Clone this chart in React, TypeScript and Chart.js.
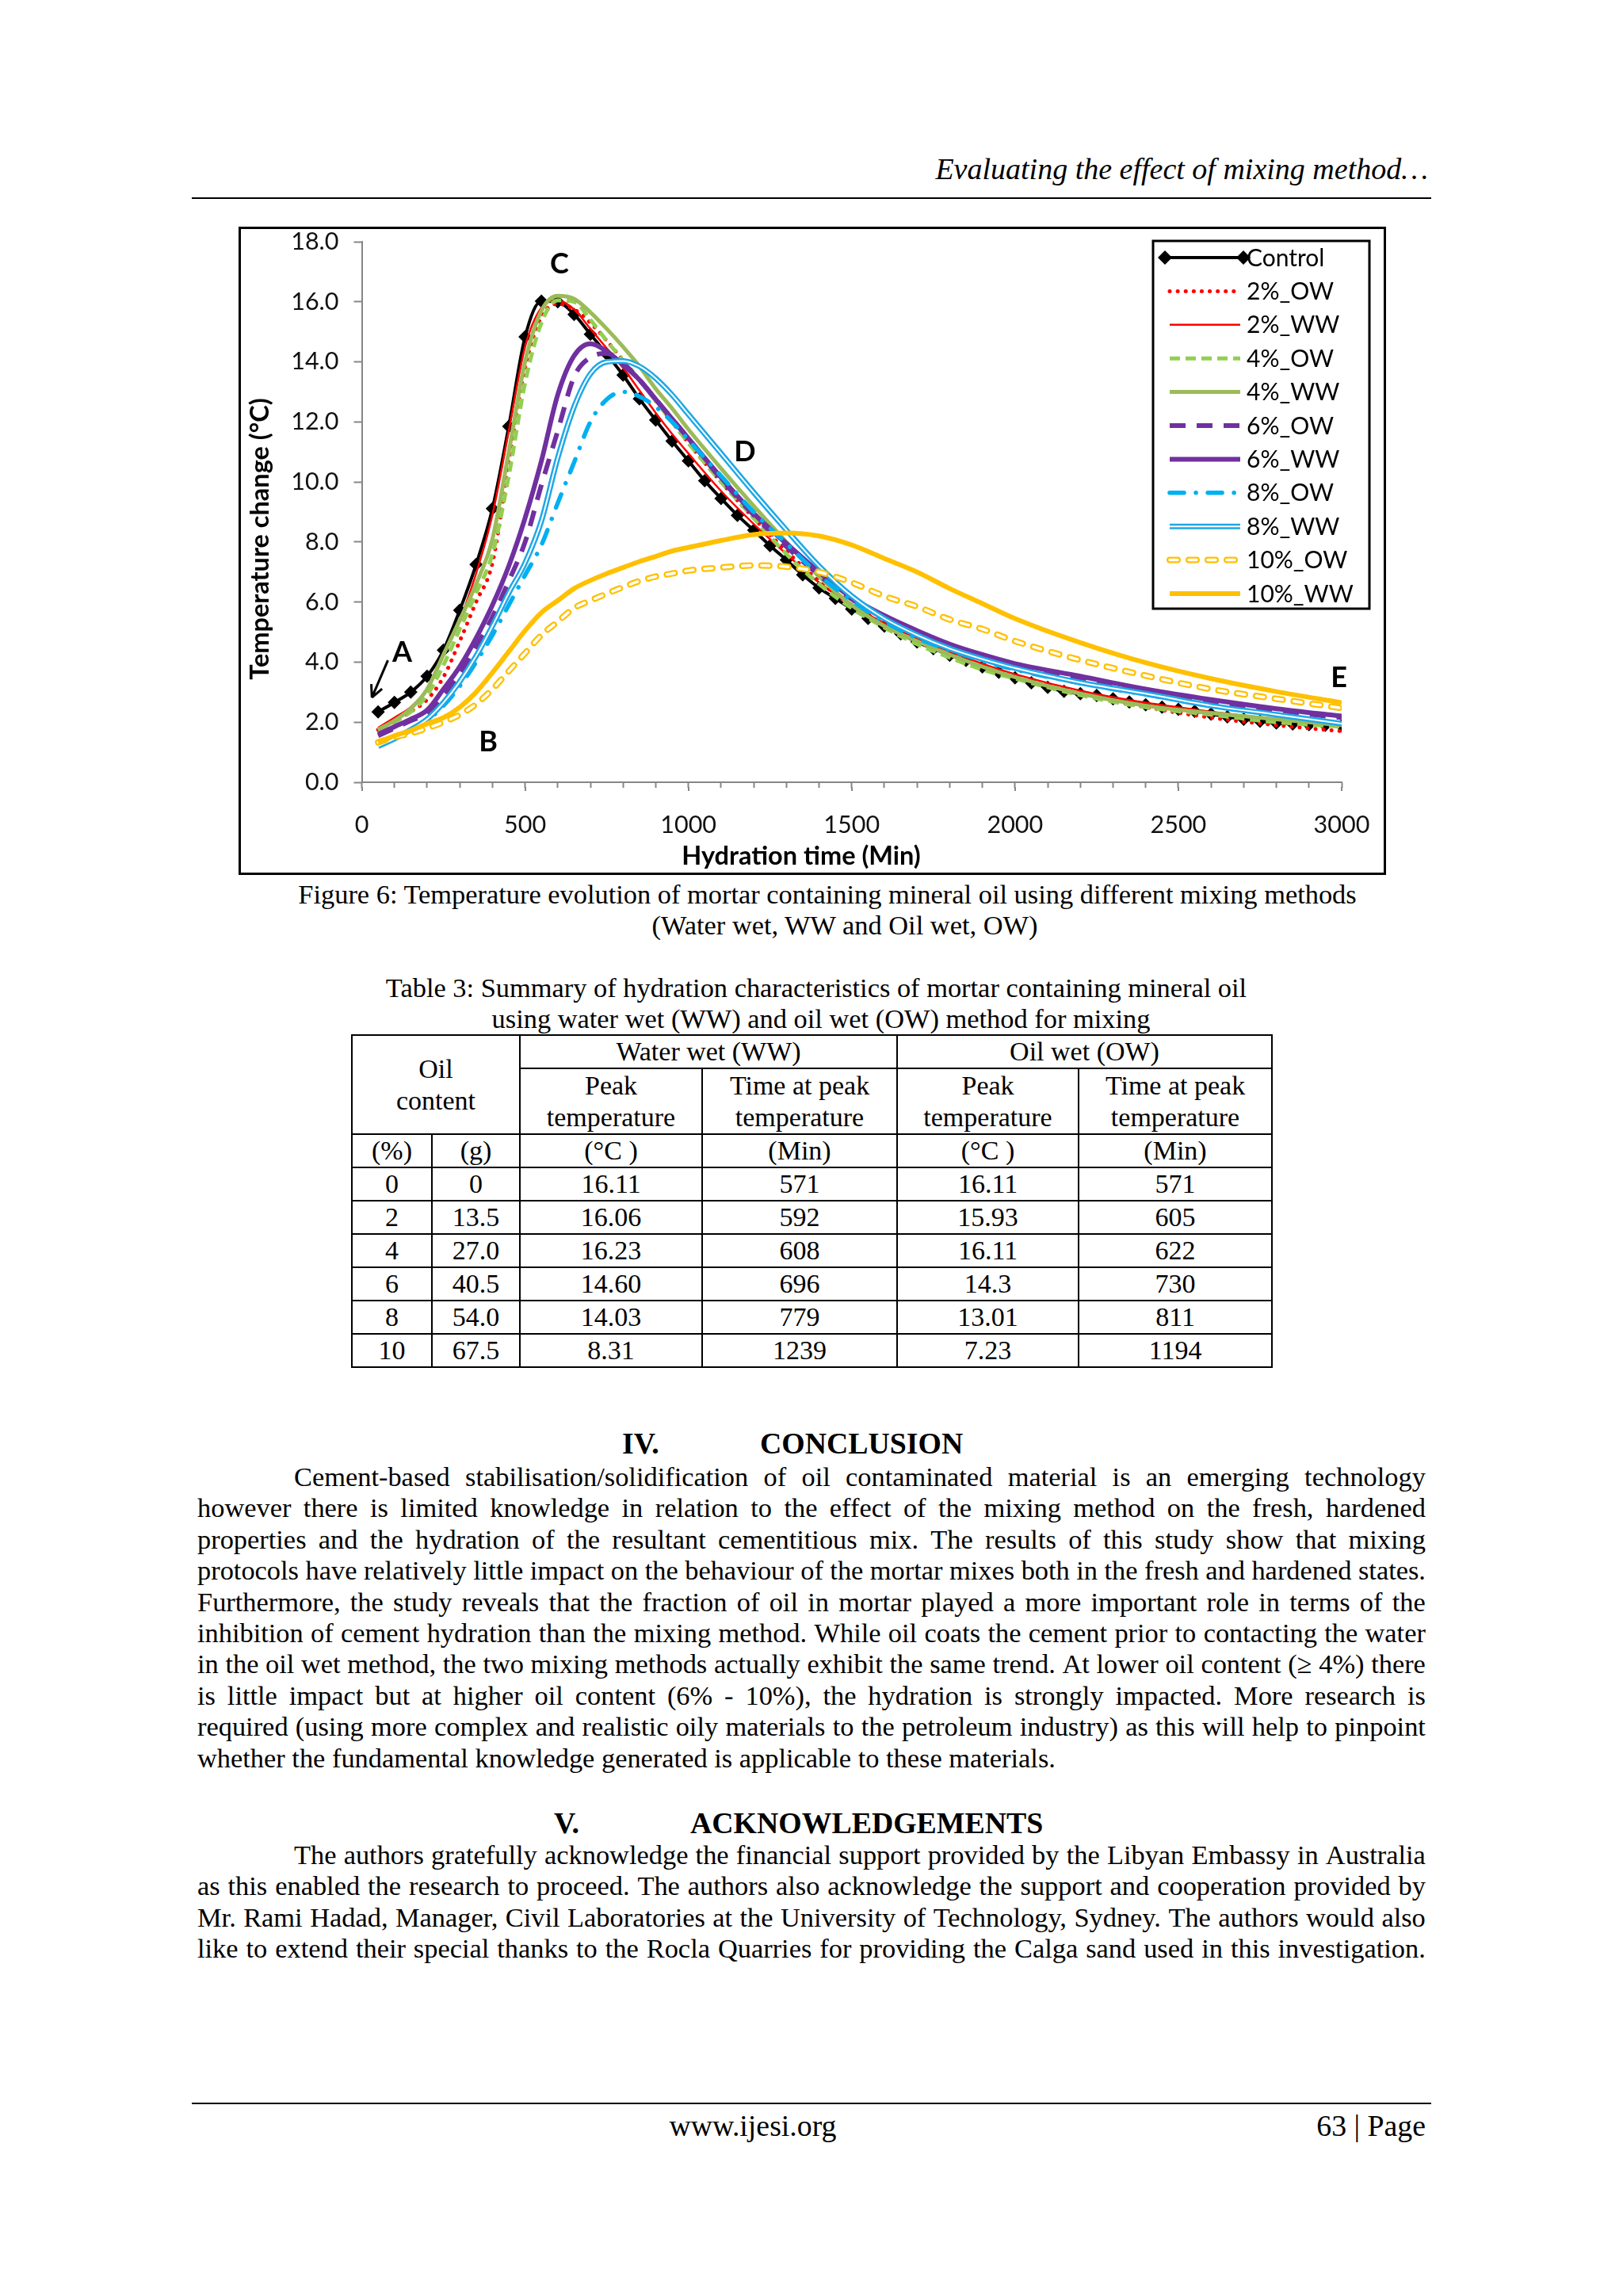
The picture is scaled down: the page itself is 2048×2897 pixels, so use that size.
import React, { useEffect, useRef } from 'react';
import { Chart, registerables } from 'chart.js';

Chart.register(...registerables);

// ---------------- DATA ----------------
const controlTime = [
  50, 100, 150, 200, 250, 300, 350, 400, 450, 500,
  550, 600, 650, 700, 750, 800, 850, 900, 950, 1000,
  1050, 1100, 1150, 1200, 1250, 1300, 1350, 1400, 1450, 1500,
  1550, 1600, 1650, 1700, 1750, 1800, 1850, 1900, 1950, 2000,
  2050, 2100, 2150, 2200, 2250, 2300, 2350, 2400, 2450, 2500,
  2550, 2600, 2650, 2700, 2750, 2800, 2850, 2900, 2950, 3000,
];
const control = [
  2.34, 2.66, 3.0, 3.53, 4.4, 5.73, 7.25, 9.11, 11.85, 14.83,
  16.02, 16.0, 15.58, 14.92, 14.26, 13.56, 12.77, 12.06, 11.36, 10.7,
  10.04, 9.45, 8.89, 8.39, 7.88, 7.4, 6.91, 6.47, 6.12, 5.77,
  5.46, 5.2, 4.94, 4.67, 4.45, 4.23, 4.06, 3.84, 3.66, 3.48,
  3.31, 3.16, 3.03, 2.95, 2.89, 2.78, 2.67, 2.58, 2.5, 2.43,
  2.36, 2.27, 2.18, 2.1, 2.03, 1.97, 1.94, 1.92, 1.9, 1.88,
];

const seriesTime = [
  50, 100, 150, 200, 250, 300, 350, 400, 450, 500,
  550, 600, 650, 700, 750, 800, 850, 900, 950, 1000,
  1100, 1200, 1300, 1400, 1500, 1600, 1700, 1800, 1900, 2000,
  2200, 2400, 2600, 2800, 3000,
];
const ow2 = [
  1.75, 2.05, 2.35, 2.75, 3.5, 4.7, 6.0, 7.3, 10.6, 13.8,
  15.5, 15.93, 15.75, 15.3, 14.7, 14.05, 13.4, 12.7, 12.0, 11.3,
  10.0, 8.8, 7.7, 6.7, 5.9, 5.25, 4.7, 4.25, 3.85, 3.5,
  2.95, 2.5, 2.15, 1.9, 1.7,
];
const ww2 = [
  1.81, 2.15, 2.5, 3.1, 4.2, 5.4, 6.95, 8.9, 11.7, 14.5,
  15.8, 16.05, 15.75, 15.1, 14.45, 13.8, 13.05, 12.3, 11.6, 10.95,
  9.7, 8.6, 7.6, 6.65, 5.9, 5.3, 4.8, 4.35, 3.95, 3.6,
  3.05, 2.65, 2.35, 2.1, 1.9,
];
const ow4 = [
  1.72, 2.0, 2.35, 2.9, 3.9, 5.1, 6.3, 7.6, 10.2, 13.3,
  15.3, 16.05, 16.0, 15.4, 14.7, 14.05, 13.4, 12.7, 12.0, 11.3,
  10.0, 8.8, 7.6, 6.6, 5.8, 5.15, 4.6, 4.15, 3.75, 3.45,
  2.9, 2.5, 2.25, 2.0, 1.85,
];
const ww4 = [
  1.75, 2.05, 2.45, 3.1, 4.25, 5.4, 6.6, 8.1, 11.0, 14.0,
  15.7, 16.2, 16.1, 15.65, 15.1, 14.5, 13.85, 13.1, 12.45, 11.75,
  10.45, 9.2, 8.0, 6.85, 5.9, 5.2, 4.7, 4.25, 3.85, 3.5,
  2.95, 2.55, 2.3, 2.1, 1.9,
];
const ow6 = [
  1.55, 1.8, 2.05, 2.3, 2.9, 3.6, 4.5, 5.5, 6.7, 8.0,
  9.9, 11.7, 13.5, 14.15, 14.28, 13.95, 13.4, 12.75, 12.1, 11.45,
  10.1, 8.9, 7.85, 6.9, 6.1, 5.45, 4.95, 4.5, 4.15, 3.85,
  3.4, 3.0, 2.65, 2.38, 2.15,
];
const ww6 = [
  1.6, 1.85, 2.1, 2.4, 3.1, 3.85, 4.8, 5.9, 7.2, 8.8,
  10.7, 12.9, 14.2, 14.6, 14.35, 13.9, 13.4, 12.75, 12.1, 11.45,
  10.15, 8.95, 7.95, 7.0, 6.15, 5.55, 5.05, 4.6, 4.25, 3.95,
  3.53, 3.1, 2.75, 2.45, 2.2,
];
const ow8 = [
  1.3, 1.5, 1.75, 2.05, 2.55, 3.2, 4.0, 4.9, 5.9, 6.9,
  7.9, 9.3, 10.65, 12.0, 12.75, 13.0, 12.85, 12.5, 12.0, 11.4,
  10.2, 9.0, 7.95, 6.9, 6.05, 5.35, 4.8, 4.4, 4.05, 3.75,
  3.3, 2.92, 2.55, 2.25, 1.95,
];
const ww8 = [
  1.2, 1.45, 1.75, 2.1, 2.65, 3.35, 4.2, 5.2, 6.3, 7.3,
  8.7, 10.8, 12.5, 13.6, 14.0, 14.03, 13.85, 13.45, 12.9, 12.25,
  10.95, 9.65, 8.4, 7.2, 6.2, 5.45, 4.9, 4.45, 4.1, 3.8,
  3.32, 2.95, 2.55, 2.25, 1.95,
];
const ow10 = [
  1.33, 1.5, 1.63, 1.8, 2.0, 2.25, 2.6, 3.1, 3.7, 4.3,
  4.9, 5.35, 5.8, 6.05, 6.28, 6.5, 6.7, 6.85, 6.95, 7.05,
  7.15, 7.22, 7.18, 7.0, 6.65, 6.2, 5.85, 5.42, 5.1, 4.7,
  4.07, 3.55, 3.1, 2.78, 2.47,
];
const ww10 = [
  1.33, 1.55, 1.72, 1.95, 2.15, 2.5, 3.0, 3.65, 4.35, 5.05,
  5.65, 6.05, 6.45, 6.72, 6.95, 7.15, 7.35, 7.52, 7.7, 7.82,
  8.05, 8.25, 8.3, 8.2, 7.9, 7.45, 7.0, 6.45, 5.95, 5.45,
  4.65, 3.98, 3.45, 3.02, 2.65,
];

const seriesNames = ['Control', '2%_OW', '2%_WW', '4%_OW', '4%_WW', '6%_OW', '6%_WW', '8%_OW', '8%_WW', '10%_OW', '10%_WW'];
const xMajorTicks = [0, 500, 1000, 1500, 2000, 2500, 3000];

const annotationLabels = ['A', 'B', 'C', 'D', 'E'];
const annotationTime = [124, 387, 605, 1173, 2992];
const annotationTemp = [4.32, 1.33, 17.26, 11.0, 3.48];
const arrowTime = [80, 31];
const arrowTemp = [4.06, 2.82];

// Table 3
const oilPercent = ['0', '2', '4', '6', '8', '10'];
const oilGrams = ['0', '13.5', '27.0', '40.5', '54.0', '67.5'];
const wwPeakTemp = ['16.11', '16.06', '16.23', '14.60', '14.03', '8.31'];
const wwPeakTime = ['571', '592', '608', '696', '779', '1239'];
const owPeakTemp = ['16.11', '15.93', '16.11', '14.3', '13.01', '7.23'];
const owPeakTime = ['571', '605', '622', '730', '811', '1194'];

const conclusionLines = [
  'Cement-based stabilisation/solidification of oil contaminated material is an emerging technology',
  'however there is limited knowledge in relation to the effect of the mixing method on the fresh, hardened',
  'properties and the hydration of the resultant cementitious mix. The results of this study show that mixing',
  'protocols have relatively little impact on the behaviour of the mortar mixes both in the fresh and hardened states.',
  'Furthermore, the study reveals that the fraction of oil in mortar played a more important role in terms of the',
  'inhibition of cement hydration than the mixing method. While oil coats the cement prior to contacting the water',
  'in the oil wet method, the two mixing methods actually exhibit the same trend. At lower oil content (\u2265 4%) there',
  'is little impact but at higher oil content (6% - 10%), the hydration is strongly impacted. More research is',
  'required (using more complex and realistic oily materials to the petroleum industry) as this will help to pinpoint',
  'whether the fundamental knowledge generated is applicable to these materials.',
];
const ackLines = [
  'The authors gratefully acknowledge the financial support provided by the Libyan Embassy in Australia',
  'as this enabled the research to proceed. The authors also acknowledge the support and cooperation provided by',
  'Mr. Rami Hadad, Manager, Civil Laboratories at the University of Technology, Sydney. The authors would also',
  'like to extend their special thanks to the Rocla Quarries for providing the Calga sand used in this investigation.',
];

// ---------------- STYLES ----------------
type LineStyle = {
  color: string;
  width: number;
  dash?: number[];
  cap?: CanvasLineCap;
  inner?: { color: string; width: number; dash?: number[] };
  marker?: boolean;
};
const styles: Record<string, LineStyle> = {
  'Control': { color: '#000000', width: 4, marker: true },
  '2%_OW': { color: '#FF0000', width: 5, dash: [0.1, 10], cap: 'round' },
  '2%_WW': { color: '#FF0000', width: 2.5 },
  '4%_OW': { color: '#92D050', width: 5, dash: [13, 7] },
  '4%_WW': { color: '#9BBB59', width: 5 },
  '6%_OW': { color: '#7030A0', width: 6, dash: [20, 14] },
  '6%_WW': { color: '#7030A0', width: 6 },
  '8%_OW': { color: '#00B0F0', width: 5.5, dash: [18, 15, 0.1, 15], cap: 'round' },
  '8%_WW': { color: '#1FA8E6', width: 7, inner: { color: '#FFFFFF', width: 2 } },
  '10%_OW': { color: '#FFC000', width: 8, dash: [10, 14], cap: 'round', inner: { color: '#FFFFFF', width: 3.5 } },
  '10%_WW': { color: '#FFC000', width: 6 },
};

const seriesTimes = [controlTime, seriesTime, seriesTime, seriesTime, seriesTime, seriesTime, seriesTime, seriesTime, seriesTime, seriesTime, seriesTime];
const seriesValues = [control, ow2, ww2, ow4, ww4, ow6, ww6, ow8, ww8, ow10, ww10];

const TICK_FONT = 'Lato';
const SERIF = '"Liberation Serif", "Times New Roman", serif';
const AXIS_GRAY = '#868686';

function drawDiamond(ctx: CanvasRenderingContext2D, x: number, y: number, r: number) {
  ctx.beginPath();
  ctx.moveTo(x, y - r);
  ctx.lineTo(x + r, y);
  ctx.lineTo(x, y + r);
  ctx.lineTo(x - r, y);
  ctx.closePath();
  ctx.fill();
}

function drawSample(ctx: CanvasRenderingContext2D, st: LineStyle, x1: number, x2: number, yy: number) {
  ctx.save();
  ctx.strokeStyle = st.color;
  ctx.lineWidth = st.width;
  ctx.setLineDash(st.dash || []);
  ctx.lineCap = st.cap || 'butt';
  ctx.beginPath();
  ctx.moveTo(x1, yy);
  ctx.lineTo(x2, yy);
  ctx.stroke();
  if (st.inner) {
    ctx.strokeStyle = st.inner.color;
    ctx.lineWidth = st.inner.width;
    ctx.setLineDash(st.inner.dash || st.dash || []);
    ctx.beginPath();
    ctx.moveTo(x1, yy);
    ctx.lineTo(x2, yy);
    ctx.stroke();
  }
  if (st.marker) {
    ctx.fillStyle = st.color;
    drawDiamond(ctx, x1, yy, 9);
    drawDiamond(ctx, x2, yy, 9);
  }
  ctx.restore();
}

const extrasPlugin = {
  id: 'extras',
  afterDraw(chart: any) {
    const ctx: CanvasRenderingContext2D = chart.ctx;
    const xs = chart.scales.x;
    const ys = chart.scales.y;
    ctx.save();
    // longer major ticks on the x axis
    ctx.strokeStyle = AXIS_GRAY;
    ctx.lineWidth = 2;
    ctx.beginPath();
    xMajorTicks.forEach((t) => {
      const px = Math.round(xs.getPixelForValue(t));
      ctx.moveTo(px, xs.top + 6);
      ctx.lineTo(px, xs.top + 11);
    });
    ctx.stroke();

    // annotation letters
    ctx.fillStyle = '#000';
    ctx.font = `bold 36px ${TICK_FONT}`;
    ctx.textAlign = 'center';
    ctx.textBaseline = 'middle';
    annotationLabels.forEach((l, i) => {
      ctx.fillText(l, xs.getPixelForValue(annotationTime[i]), ys.getPixelForValue(annotationTemp[i]));
    });
    // arrow
    const ax1 = xs.getPixelForValue(arrowTime[0]);
    const ay1 = ys.getPixelForValue(arrowTemp[0]);
    const ax2 = xs.getPixelForValue(arrowTime[1]);
    const ay2 = ys.getPixelForValue(arrowTemp[1]);
    ctx.strokeStyle = '#000';
    ctx.lineWidth = 3;
    ctx.beginPath();
    ctx.moveTo(ax1, ay1);
    ctx.lineTo(ax2, ay2);
    const ang = Math.atan2(ay1 - ay2, ax1 - ax2);
    const hl = 17;
    ctx.moveTo(ax2, ay2);
    ctx.lineTo(ax2 + hl * Math.cos(ang + 0.45), ay2 + hl * Math.sin(ang + 0.45));
    ctx.moveTo(ax2, ay2);
    ctx.lineTo(ax2 + hl * Math.cos(ang - 0.45), ay2 + hl * Math.sin(ang - 0.45));
    ctx.stroke();

    // axis titles
    ctx.font = `bold 32.5px ${TICK_FONT}`;
    ctx.fillStyle = '#000';
    ctx.fillText('Hydration time (Min)', 707, 792);
    ctx.save();
    ctx.translate(25, 391);
    ctx.rotate(-Math.PI / 2);
    ctx.fillText('Temperature change (\u00B0C)', 0, 0);
    ctx.restore();

    // legend
    ctx.fillStyle = '#fff';
    ctx.fillRect(1151, 15, 273, 464);
    ctx.strokeStyle = '#000';
    ctx.lineWidth = 3;
    ctx.setLineDash([]);
    ctx.strokeRect(1151, 15, 273, 464);
    ctx.font = `30px ${TICK_FONT}`;
    ctx.textAlign = 'left';
    ctx.textBaseline = 'middle';
    seriesNames.forEach((n, i) => {
      const yy = 36 + i * 42.4;
      const st = styles[n];
      if (st.marker) drawSample(ctx, st, 1166, 1265, yy);
      else drawSample(ctx, st, 1172, 1261, yy);
      ctx.fillStyle = '#000';
      ctx.fillText(n, 1269, yy + 1);
    });
    ctx.restore();
  },
};

function ChartBox() {
  const ref = useRef<HTMLCanvasElement | null>(null);
  useEffect(() => {
    if (!ref.current) return;
    const datasets: any[] = [];
    seriesNames.forEach((name, si) => {
      const st = styles[name];
      const pts = seriesTimes[si].map((t, i) => ({ x: t, y: seriesValues[si][i] }));
      datasets.push({
        label: name,
        data: pts,
        borderColor: st.color,
        backgroundColor: st.color,
        borderWidth: st.width,
        borderDash: st.dash || [],
        borderCapStyle: st.cap || 'butt',
        borderJoinStyle: 'round',
        pointRadius: st.marker ? 8.5 : 0,
        pointHoverRadius: st.marker ? 8.5 : 0,
        pointStyle: 'rectRot',
        pointBackgroundColor: st.color,
        pointBorderColor: st.color,
        pointBorderWidth: 0,
        cubicInterpolationMode: 'monotone',
        fill: false,
      });
      if (st.inner) {
        datasets.push({
          label: name + ' (inner)',
          data: pts,
          borderColor: st.inner.color,
          borderWidth: st.inner.width,
          borderDash: st.inner.dash || st.dash || [],
          borderCapStyle: st.cap || 'butt',
          borderJoinStyle: 'round',
          pointRadius: 0,
          pointHoverRadius: 0,
          cubicInterpolationMode: 'monotone',
          fill: false,
        });
      }
    });
    datasets.forEach((d, i) => { d.order = datasets.length - i; });

    const chart = new Chart(ref.current, {
      type: 'line',
      data: { datasets },
      options: {
        responsive: false,
        animation: false,
        devicePixelRatio: 1,
        layout: { padding: { left: 0, right: 53, top: 16, bottom: 0 } },
        plugins: { legend: { display: false }, tooltip: { enabled: false } },
        scales: {
          x: {
            type: 'linear',
            min: 0,
            max: 3000,
            afterFit: (s: any) => { s.height = 114; s.paddingLeft = 0; s.paddingRight = 0; },
            ticks: {
              stepSize: 100,
              autoSkip: false,
              maxRotation: 0,
              padding: 29,
              color: '#111',
              font: { family: TICK_FONT, size: 30.5 },
              callback: (v: any) => (Number(v) % 500 === 0 ? String(v) : ''),
            },
            grid: { drawOnChartArea: false, drawTicks: true, tickLength: 7, color: AXIS_GRAY, tickColor: AXIS_GRAY, tickWidth: 2 },
            border: { color: AXIS_GRAY, width: 2 },
          },
          y: {
            min: 0,
            max: 18,
            afterFit: (s: any) => { s.width = 152.5; s.paddingTop = 0; s.paddingBottom = 0; },
            ticks: {
              stepSize: 2,
              padding: 19,
              color: '#111',
              font: { family: TICK_FONT, size: 30.5 },
              callback: (v: any) => Number(v).toFixed(1),
            },
            grid: { drawOnChartArea: false, drawTicks: true, tickLength: 10, color: AXIS_GRAY, tickColor: AXIS_GRAY, tickWidth: 2 },
            border: { color: AXIS_GRAY, width: 2 },
          },
        },
      } as any,
      plugins: [extrasPlugin as any],
    });
    return () => chart.destroy();
  }, []);
  return (
    <div style={{ position: 'absolute', left: 301, top: 286, width: 1448, height: 818, border: '3px solid #000', boxSizing: 'border-box', background: '#fff' }}>
      <canvas ref={ref} width={1442} height={812} style={{ display: 'block', width: 1442, height: 812 }} />
    </div>
  );
}

function CenterLine({ cx, cy, size, children, style }: any) {
  return (
    <div style={{ position: 'absolute', left: cx - 1000, width: 2000, top: cy - 20, height: 40, lineHeight: '40px', textAlign: 'center', fontSize: size, whiteSpace: 'nowrap', ...style }}>
      {children}
    </div>
  );
}

function PlainLine({ left, cy, size, children, style }: any) {
  return (
    <div style={{ position: 'absolute', left, top: cy - 20, height: 40, lineHeight: '40px', fontSize: size, whiteSpace: 'nowrap', ...style }}>
      {children}
    </div>
  );
}

function JustLine({ text, cy, indent, last }: any) {
  const left = 249 + (indent || 0);
  const width = 1550 - (indent || 0);
  if (last) {
    return <PlainLine left={left} cy={cy} size={34.4}>{text}</PlainLine>;
  }
  const words = text.split(' ');
  return (
    <div style={{ position: 'absolute', left, width, top: cy - 20, height: 40, lineHeight: '40px', fontSize: 34.4, display: 'flex', justifyContent: 'space-between', whiteSpace: 'nowrap' }}>
      {words.map((w: string, i: number) => <span key={i}>{w}</span>)}
    </div>
  );
}

function DataTable() {
  const colW = [101, 111, 230, 246, 229, 244];
  const rowH = [40, 83, 42, 41, 42, 41, 41.5, 41.5, 41];
  const cell: React.CSSProperties = { border: '2px solid #000', padding: 0, textAlign: 'center', verticalAlign: 'middle', fontSize: 34, lineHeight: '40px' };
  return (
    <table style={{ position: 'absolute', left: 443, top: 1305, width: 1161, borderCollapse: 'collapse', tableLayout: 'fixed', fontFamily: SERIF }}>
      <colgroup>
        {colW.map((w, i) => <col key={i} style={{ width: w }} />)}
      </colgroup>
      <tbody>
        <tr style={{ height: rowH[0] }}>
          <td style={cell} rowSpan={2} colSpan={2}>Oil<br />content</td>
          <td style={cell} colSpan={2}>Water wet (WW)</td>
          <td style={cell} colSpan={2}>Oil wet (OW)</td>
        </tr>
        <tr style={{ height: rowH[1] }}>
          <td style={cell}>Peak<br />temperature</td>
          <td style={cell}>Time at peak<br />temperature</td>
          <td style={cell}>Peak<br />temperature</td>
          <td style={cell}>Time at peak<br />temperature</td>
        </tr>
        <tr style={{ height: rowH[2] }}>
          <td style={cell}>(%)</td>
          <td style={cell}>(g)</td>
          <td style={cell}>(°C )</td>
          <td style={cell}>(Min)</td>
          <td style={cell}>(°C )</td>
          <td style={cell}>(Min)</td>
        </tr>
        {oilPercent.map((p, i) => (
          <tr key={i} style={{ height: rowH[3 + i] }}>
            <td style={cell}>{p}</td>
            <td style={cell}>{oilGrams[i]}</td>
            <td style={cell}>{wwPeakTemp[i]}</td>
            <td style={cell}>{wwPeakTime[i]}</td>
            <td style={cell}>{owPeakTemp[i]}</td>
            <td style={cell}>{owPeakTime[i]}</td>
          </tr>
        ))}
      </tbody>
    </table>
  );
}

export default function App() {
  return (
    <div style={{ position: 'absolute', left: 0, top: 0, width: 2048, height: 2897, background: '#fff', fontFamily: SERIF, color: '#000', overflow: 'hidden' }}>
      <div style={{ position: 'absolute', right: 246, top: 193, height: 40, lineHeight: '40px', fontSize: 38, fontStyle: 'italic', whiteSpace: 'nowrap' }}>
        Evaluating the effect of mixing method…
      </div>
      <div style={{ position: 'absolute', left: 242, top: 249, width: 1564, height: 2, background: '#000' }} />

      <ChartBox />

      <CenterLine cx={1044} cy={1128} size={34.4}>Figure 6: Temperature evolution of mortar containing mineral oil using different mixing methods</CenterLine>
      <CenterLine cx={1066} cy={1167} size={34.4}>(Water wet, WW and Oil wet, OW)</CenterLine>

      <CenterLine cx={1030} cy={1246} size={34.4}>Table 3: Summary of hydration characteristics of mortar containing mineral oil</CenterLine>
      <CenterLine cx={1036} cy={1285} size={34.4}>using water wet (WW) and oil wet (OW) method for mixing</CenterLine>

      <DataTable />

      <PlainLine left={785} cy={1821} size={37.8} style={{ fontWeight: 'bold' }}>IV.</PlainLine>
      <PlainLine left={959} cy={1821} size={37.8} style={{ fontWeight: 'bold' }}>CONCLUSION</PlainLine>
      {conclusionLines.map((t, i) => (
        <JustLine key={i} text={t} cy={1863 + i * 39.4} indent={i === 0 ? 122 : 0} last={i === conclusionLines.length - 1} />
      ))}

      <PlainLine left={699} cy={2300} size={37.8} style={{ fontWeight: 'bold' }}>V.</PlainLine>
      <PlainLine left={871} cy={2300} size={37.8} style={{ fontWeight: 'bold' }}>ACKNOWLEDGEMENTS</PlainLine>
      {ackLines.map((t, i) => (
        <JustLine key={i} text={t} cy={2340 + i * 39.4} indent={i === 0 ? 122 : 0} last={false} />
      ))}

      <div style={{ position: 'absolute', left: 242, top: 2653, width: 1564, height: 2, background: '#000' }} />
      <CenterLine cx={950} cy={2682} size={37.8}>www.ijesi.org</CenterLine>
      <div style={{ position: 'absolute', right: 249, top: 2662, height: 40, lineHeight: '40px', fontSize: 37.8, whiteSpace: 'nowrap' }}>63 | Page</div>
    </div>
  );
}
